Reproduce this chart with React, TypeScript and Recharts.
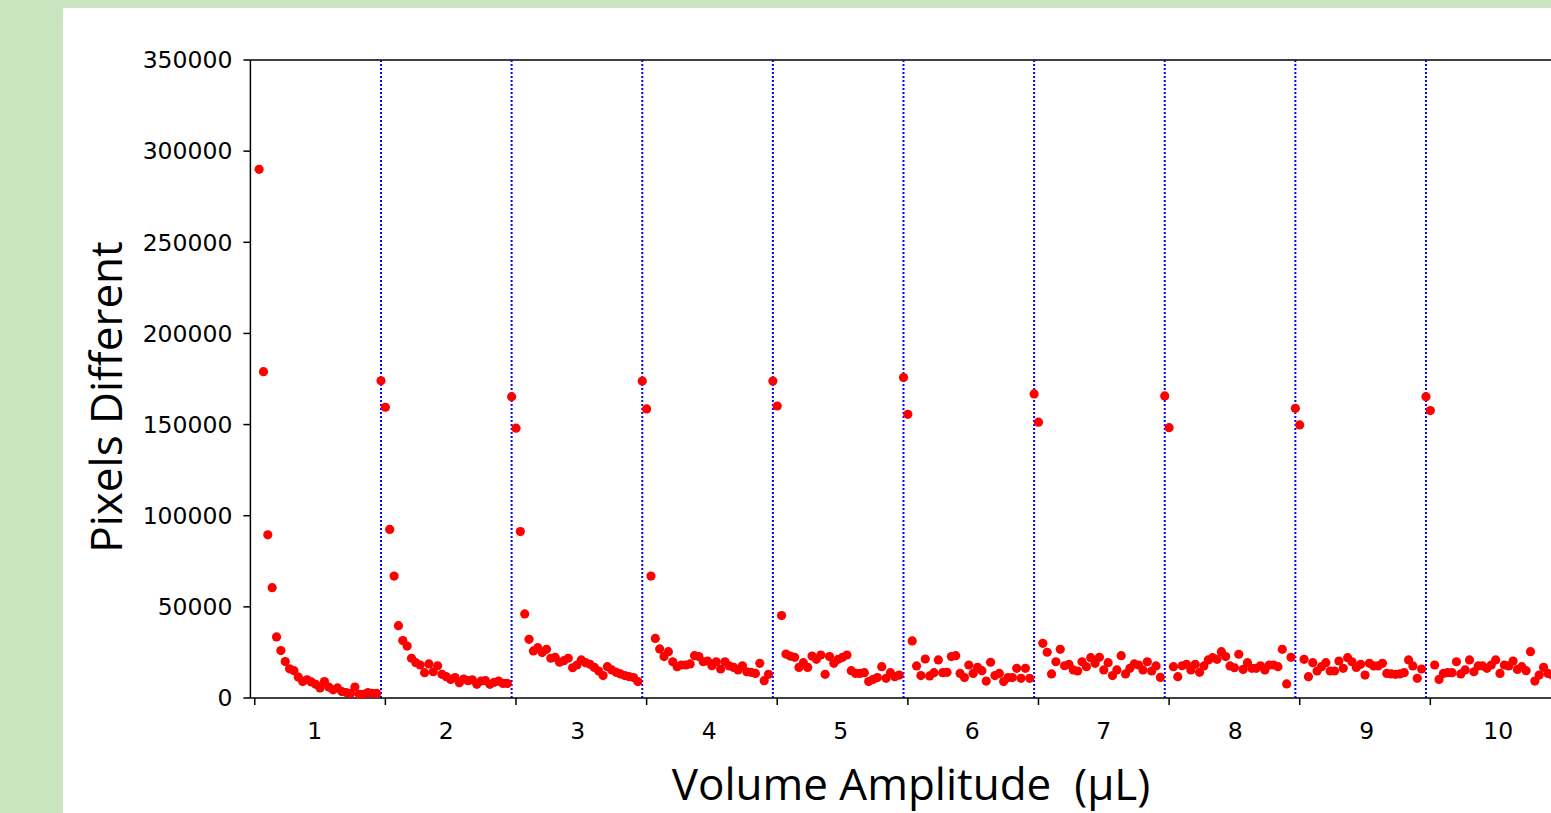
import React from "react";
import { ReferenceLine, Scatter, ScatterChart, XAxis, YAxis } from "recharts";

// Pixels different per frame, one list per volume amplitude (30 frames each).
// Group 1 starts two frames in: its first frames sit above the axis range.
const group1 = [290000, 179000, 89500, 60500, 33500, 26000, 20000, 16000, 15000, 11500, 9000, 10000, 8800, 7500, 5500, 9000, 6000, 4500, 5500, 3500, 3000, 2500, 6000, 2000, 2000, 3000, 2500, 2500];
const group2 = [174000, 159500, 92500, 66900, 39700, 31500, 28500, 21800, 19400, 18100, 13900, 18700, 14400, 17700, 13000, 11700, 10200, 11200, 8400, 10400, 9500, 9900, 7500, 9300, 9500, 7500, 8600, 9300, 8000, 8000];
const group3 = [165300, 148000, 91300, 46100, 32200, 25800, 27600, 24900, 26700, 21800, 22300, 19600, 20500, 21800, 16600, 18100, 20900, 19400, 18500, 16800, 14800, 12300, 17200, 15400, 14100, 13200, 12300, 11700, 11200, 9000];
const group4 = [173900, 158600, 66900, 32700, 26900, 22700, 25400, 19900, 17200, 18100, 18100, 18700, 23200, 22700, 19900, 20300, 17700, 19900, 15900, 19900, 17600, 16800, 15400, 17700, 14400, 14100, 13500, 19000, 9500, 13000];
const group5 = [173900, 160200, 45200, 24100, 23000, 22300, 16800, 19400, 16800, 23000, 21200, 23600, 13000, 22700, 19000, 21200, 22300, 23600, 15000, 13500, 13500, 13900, 9000, 10200, 11200, 17200, 10800, 13900, 11700, 12600];
const group6 = [175800, 155600, 31300, 17600, 12300, 21400, 12100, 13900, 20900, 13900, 14100, 22700, 23200, 13500, 11200, 18100, 13500, 16800, 15000, 9300, 19600, 12300, 13500, 9000, 11200, 11200, 16300, 10800, 16300, 10800];
const group7 = [166800, 151300, 30000, 25100, 13200, 19900, 26700, 17700, 18500, 15400, 14800, 19900, 17200, 22100, 19000, 22300, 15400, 19400, 12300, 15400, 23200, 13200, 16300, 18700, 18100, 15400, 19900, 14800, 17600, 11300];
const group8 = [165700, 148300, 17200, 11700, 17700, 18500, 15400, 18500, 14100, 17600, 20900, 22100, 21200, 25400, 22700, 17600, 16600, 24000, 15700, 19400, 16300, 16300, 17700, 15400, 18100, 18100, 17200, 26700, 7700, 22300];
const group9 = [158900, 149800, 21200, 11700, 19400, 14800, 17200, 19400, 14800, 14800, 20300, 16300, 22100, 19900, 16800, 18500, 12600, 19000, 17600, 17600, 19000, 13500, 13200, 13000, 13200, 13900, 20900, 17600, 10800, 15900];
const group10 = [165300, 157700, 18100, 10200, 13500, 13900, 13900, 19900, 13200, 15400, 20900, 14400, 17600, 17600, 16300, 18100, 20900, 13500, 18100, 17600, 20300, 15700, 17200, 15000, 25400, 9300, 12600, 16800, 13500, 12600];

const groups = [group1, group2, group3, group4, group5, group6, group7, group8, group9, group10];
const FRAMES_PER_GROUP = 30;

const groupLabels = ["1", "2", "3", "4", "5", "6", "7", "8", "9", "10"];
const boundaryFrames = [30, 60, 90, 120, 150, 180, 210, 240, 270];
const groupTickFrames = [1, 31, 61, 91, 121, 151, 181, 211, 241, 271];
const labelFrames = [14.8, 45, 75.2, 105.4, 135.6, 165.8, 196, 226.2, 256.4, 286.6];
const yTicks = [0, 50000, 100000, 150000, 200000, 250000, 300000, 350000];

const points = groups.flatMap((vals, g) =>
  vals.map((v, k) => ({
    frame: g * FRAMES_PER_GROUP + (FRAMES_PER_GROUP - vals.length) + k,
    pixels: v,
  }))
);

const xTicks = [...groupTickFrames, ...labelFrames].sort((a, b) => a - b);

const tickFont = { fontSize: 23.5, fontFamily: "DejaVu Sans", fill: "#000" };
const titleFont = { fontSize: 44, fontFamily: "Open Sans", color: "#000" };

function Dot(props: any) {
  return <circle cx={props.cx} cy={props.cy} r={4.6} fill="#ff0000" />;
}

// group ticks get a short tick mark, the mid-group ticks carry the amplitude label
function XTick(props: any) {
  const { x, y, payload } = props;
  const i = labelFrames.indexOf(payload.value);
  if (i < 0) {
    return <line x1={x} x2={x} y1={y} y2={y + 7} stroke="#000" strokeWidth={1.5} />;
  }
  return (
    <text x={x} y={y + 24} dy="0.71em" textAnchor="middle" {...tickFont}>
      {groupLabels[i]}
    </text>
  );
}

export default function App() {
  return (
    <div
      style={{
        position: "fixed",
        left: 0,
        top: 0,
        width: 1551,
        height: 813,
        overflow: "hidden",
        background: "#c9e5c0",
      }}
    >
      <div style={{ position: "absolute", left: 63, top: 8, right: 0, bottom: 0, background: "#fff" }} />
      <div style={{ position: "absolute", left: 0, top: 0 }}>
        <ScatterChart width={1600} height={813} margin={{ top: 60, right: 43.4, bottom: 0, left: 100.4 }}>
          <XAxis
            type="number"
            dataKey="frame"
            domain={[0, 300]}
            ticks={xTicks}
            interval={0}
            tick={<XTick />}
            tickSize={0}
            tickMargin={0}
            tickLine={false}
            height={115}
            axisLine={{ stroke: "#000", strokeWidth: 1.5 }}
          />
          <YAxis
            type="number"
            dataKey="pixels"
            domain={[0, 350000]}
            ticks={yTicks}
            interval={0}
            width={150}
            tickSize={7}
            tickMargin={11}
            tick={tickFont}
            axisLine={{ stroke: "#000", strokeWidth: 1.5 }}
            tickLine={{ stroke: "#000", strokeWidth: 1.5 }}
          />
          <ReferenceLine y={350000} stroke="#000" strokeWidth={1.5} />
          {boundaryFrames.map((f) => (
            <ReferenceLine
              key={f}
              x={f}
              stroke="#0000ff"
              strokeWidth={2}
              strokeDasharray="2 2"
            />
          ))}
          <Scatter data={points} dataKey="pixels" shape={Dot} isAnimationActive={false} />
        </ScatterChart>
      </div>
      <div
        style={{
          ...titleFont,
          position: "absolute",
          left: 105,
          top: 397,
          transform: "translate(-50%, -50%) rotate(-90deg)",
          whiteSpace: "nowrap",
          lineHeight: 1,
        }}
      >
        Pixels Different
      </div>
      <div
        style={{
          ...titleFont,
          position: "absolute",
          left: 911,
          top: 783,
          transform: "translate(-50%, -50%)",
          whiteSpace: "pre",
          lineHeight: 1,
        }}
      >
        {"Volume Amplitude  (μL)"}
      </div>
    </div>
  );
}
